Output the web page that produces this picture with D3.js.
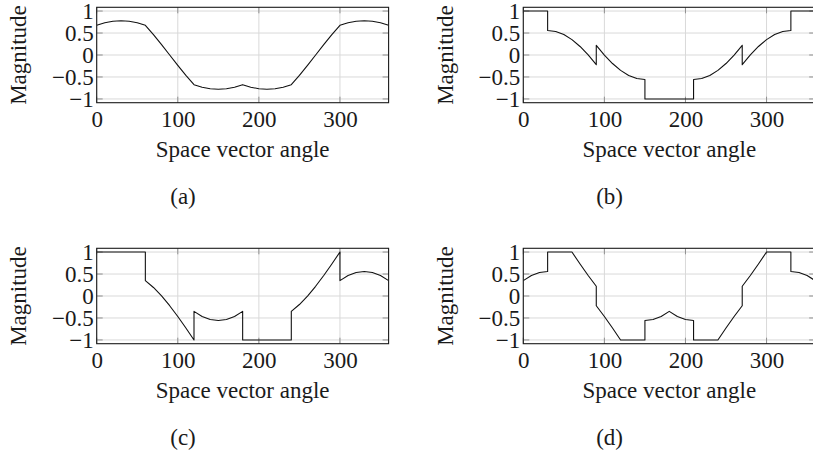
<!DOCTYPE html>
<html>
<head>
<meta charset="utf-8">
<script src="https://cdn.jsdelivr.net/npm/d3@7"></script>
<style>
  html, body { margin: 0; background: #fff; }
  svg text { font-family: "Liberation Serif", "Times New Roman", serif !important; fill: #1a1a1a; }
</style>
</head>
<body>
<div id="chart"></div>
<script>
// Space vector angle (deg) and magnitude for the four modulation schemes.
// Jumps are written as two points at the same angle.
const anglesA = [0,10,20,30,40,50,60,70,80,90,100,110,120,130,140,150,160,170,180,
  190,200,210,220,230,240,250,260,270,280,290,300,310,320,330,340,350,360];
const magA = [0.675,0.732,0.768,0.779,0.768,0.732,0.675,0.462,0.234,0,-0.234,-0.462,-0.675,
  -0.732,-0.768,-0.779,-0.768,-0.732,-0.675,-0.732,-0.768,-0.779,-0.768,-0.732,-0.675,
  -0.462,-0.234,0,0.234,0.462,0.675,0.732,0.768,0.779,0.768,0.732,0.675];

const anglesB = [0,10,20,30, 30,40,50,60,70,80,90, 90,100,110,120,130,140,150,
  150,160,170,180,190,200,210, 210,220,230,240,250,260,270, 270,280,290,300,310,320,330,
  330,340,350,360];
const magB = [1,1,1,1, 0.559,0.535,0.465,0.350,0.194,0.002,-0.221, 0.221,-0.002,-0.194,-0.350,-0.465,-0.535,-0.559,
  -1,-1,-1,-1,-1,-1,-1, -0.559,-0.535,-0.465,-0.350,-0.194,-0.002,0.221, -0.221,0.002,0.194,0.350,0.465,0.535,0.559,
  1,1,1,1];

const anglesC = [0,10,20,30,40,50,60, 60,70,80,90,100,110,120, 120,130,140,150,160,170,180,
  180,190,200,210,220,230,240, 240,250,260,270,280,290,300, 300,310,320,330,340,350,360];
const magC = [1,1,1,1,1,1,1, 0.350,0.194,0.002,-0.221,-0.467,-0.729,-1, -0.350,-0.465,-0.535,-0.559,-0.535,-0.465,-0.350,
  -1,-1,-1,-1,-1,-1,-1, -0.350,-0.194,-0.002,0.221,0.467,0.729,1, 0.350,0.465,0.535,0.559,0.535,0.465,0.350];

const anglesD = [0,10,20,30, 30,40,50,60,70,80,90, 90,100,110,120,130,140,150,
  150,160,170,180,190,200,210, 210,220,230,240,250,260,270, 270,280,290,300,310,320,330,
  330,340,350,360];
const magD = [0.350,0.465,0.535,0.559, 1,1,1,1,0.729,0.467,0.221, -0.221,-0.467,-0.729,-1,-1,-1,-1,
  -0.559,-0.535,-0.465,-0.350,-0.465,-0.535,-0.559, -1,-1,-1,-1,-0.729,-0.467,-0.221,
  0.221,0.467,0.729,1,1,1,1, 0.559,0.535,0.465,0.350];

const xTicks = [0, 100, 200, 300];
const yTicks = [-1, -0.5, 0, 0.5, 1];
const yTickLabels = ['\u22121', '\u22120.5', '0', '0.5', '1'];
const captions = ['(a)', '(b)', '(c)', '(d)'];
const xLabel = 'Space vector angle';
const yLabel = 'Magnitude';

const panels = [
  { angles: anglesA, mag: magA },
  { angles: anglesB, mag: magB },
  { angles: anglesC, mag: magC },
  { angles: anglesD, mag: magD }
];

// layout (px) — the right column runs off the page edge like the original
const width = 813, height = 457;
const colLeft = [96.7, 523.3];
const rowTop = [7.3, 248.3];
const plotW = 291.9, plotH = 95.4;
const fontSize = 23;
const serif = '"Liberation Serif", "Times New Roman", serif';

const svg = d3.select('#chart')
  .append('svg')
  .attr('width', width)
  .attr('height', height)
  .attr('viewBox', `0 0 ${width} ${height}`);

const x = d3.scaleLinear().domain([0, 360]).range([0, plotW]);
const y = d3.scaleLinear().domain([-1.085, 1.085]).range([plotH, 0]);

panels.forEach((p, i) => {
  const col = i % 2;
  const left = colLeft[col];
  const top = rowTop[Math.floor(i / 2)];
  const g = svg.append('g')
    .attr('transform', `translate(${left},${top})`)
    .attr('font-family', serif);

  g.append('clipPath').attr('id', `clip${i}`)
    .append('rect').attr('width', plotW).attr('height', plotH);

  // grid
  g.selectAll('.vgrid').data(xTicks).join('line')
    .attr('x1', d => x(d)).attr('x2', d => x(d))
    .attr('y1', 0).attr('y2', plotH)
    .attr('stroke', '#d9d9d9').attr('stroke-width', 1);
  g.selectAll('.hgrid').data(yTicks).join('line')
    .attr('x1', 0).attr('x2', plotW)
    .attr('y1', d => y(d)).attr('y2', d => y(d))
    .attr('stroke', '#d9d9d9').attr('stroke-width', 1);

  // inner tick marks on all four sides
  const tl = 6;
  xTicks.forEach(t => {
    g.append('line').attr('x1', x(t)).attr('x2', x(t)).attr('y1', plotH).attr('y2', plotH - tl)
      .attr('stroke', '#909090');
    g.append('line').attr('x1', x(t)).attr('x2', x(t)).attr('y1', 0).attr('y2', tl)
      .attr('stroke', '#909090');
  });
  yTicks.forEach(t => {
    g.append('line').attr('x1', 0).attr('x2', tl).attr('y1', y(t)).attr('y2', y(t))
      .attr('stroke', '#909090');
    g.append('line').attr('x1', plotW - tl).attr('x2', plotW).attr('y1', y(t)).attr('y2', y(t))
      .attr('stroke', '#909090');
  });

  // curve
  const pts = p.angles.map((a, k) => [a, p.mag[k]]);
  const line = d3.line().x(d => x(d[0])).y(d => y(d[1]));
  g.append('path')
    .attr('clip-path', `url(#clip${i})`)
    .attr('d', line(pts))
    .attr('fill', 'none')
    .attr('stroke', '#111')
    .attr('stroke-width', 1.1)
    .attr('stroke-linejoin', 'round');

  // frame
  g.append('rect')
    .attr('width', plotW).attr('height', plotH)
    .attr('fill', 'none').attr('stroke', '#1a1a1a').attr('stroke-width', 1.1);

  // tick labels through d3 axes, lines removed
  const xAxis = g.append('g')
    .attr('transform', `translate(0,${plotH})`)
    .call(d3.axisBottom(x).tickValues(xTicks).tickSize(0))
    .attr('font-family', serif).attr('font-size', fontSize);
  xAxis.select('.domain').remove();
  xAxis.selectAll('text')
    .attr('y', 24.5).attr('dy', 0)
    .style('font-family', serif)
    .style('font-size', fontSize + 'px');

  const yAxis = g.append('g')
    .call(d3.axisLeft(y).tickValues(yTicks)
      .tickFormat((d, k) => yTickLabels[k]).tickSize(0).tickPadding(3))
    .attr('font-family', serif).attr('font-size', fontSize);
  yAxis.select('.domain').remove();
  yAxis.selectAll('text')
    .attr('dy', '0.32em')
    .style('font-family', serif)
    .style('font-size', fontSize + 'px');

  g.append('text')
    .attr('x', plotW / 2).attr('y', plotH + 54.7)
    .attr('text-anchor', 'middle')
    .style('font-size', fontSize + 'px')
    .text(xLabel);

  // y label sits 70.7px left of each frame
  g.append('text')
    .attr('transform', `translate(${-70.7},${plotH / 2}) rotate(-90)`)
    .attr('text-anchor', 'middle')
    .style('font-size', fontSize + 'px')
    .text(yLabel);

  g.append('text')
    .attr('x', (col === 0 ? 183 : 609.6) - left)
    .attr('y', plotH + 101)
    .attr('text-anchor', 'middle')
    .style('font-size', fontSize + 'px')
    .text(captions[i]);
});
</script>
</body>
</html>
